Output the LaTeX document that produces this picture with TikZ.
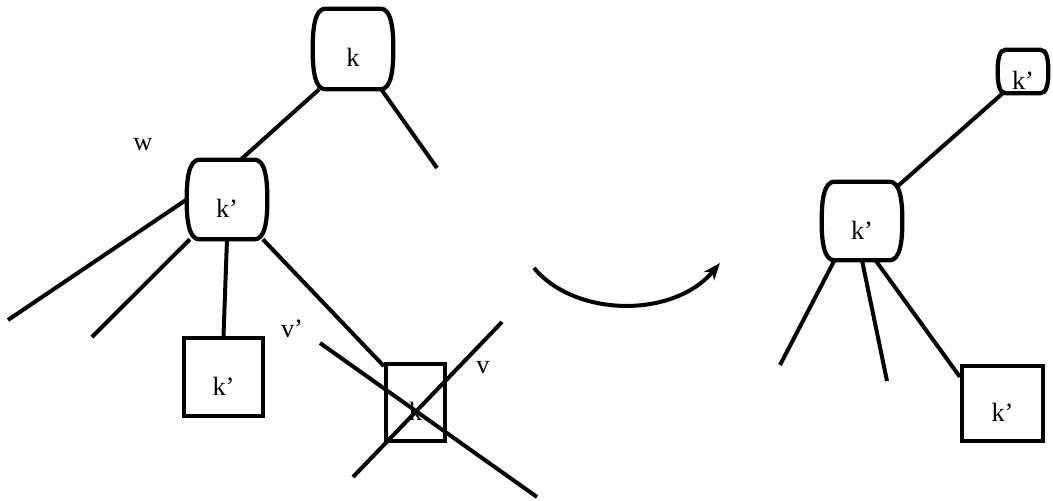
\documentclass[tikz,border=0pt]{standalone}
\usepackage{fontspec}
\setmainfont{Liberation Serif}
\usetikzlibrary{arrows.meta,calc}
\tikzset{
  clave/.style={rectangle,draw=none,inner sep=0pt,font=\fontsize{15}{18}\selectfont,text height=0.72cm,text depth=0pt},
  hoja/.style={rectangle,draw=black,line width=0.085cm,inner sep=0pt,font=\fontsize{15}{18}\selectfont,text height=0.72cm,text depth=0pt},
  borde/.style={draw=black,line width=0.085cm},
  arista/.style={draw=black,line width=0.08cm},
  etiq/.style={anchor=base,inner sep=0pt,font=\fontsize{15}{18}\selectfont},
  flecha/.style={draw=black,line width=0.08cm,-{Stealth[length=0.34cm,width=0.26cm,inset=0.1cm]}},
}
\newcommand\barril[1]{%
  \draw[borde] ($(#1.north west)!.16!(#1.north east)$) -- ($(#1.north west)!.84!(#1.north east)$)
    .. controls ($(#1.north west)!.97!(#1.north east)$) and ($(#1.north east)!.45!(#1.east)$) .. (#1.east)
    .. controls ($(#1.south east)!.45!(#1.east)$) and ($(#1.south west)!.97!(#1.south east)$) .. ($(#1.south west)!.84!(#1.south east)$)
    -- ($(#1.south west)!.16!(#1.south east)$)
    .. controls ($(#1.south west)!.03!(#1.south east)$) and ($(#1.south west)!.45!(#1.west)$) .. (#1.west)
    .. controls ($(#1.north west)!.45!(#1.west)$) and ($(#1.north west)!.03!(#1.north east)$) .. cycle;}
\begin{document}
\begin{tikzpicture}[x=0.02cm,y=-0.02cm]
\useasboundingbox (0,0) rectangle (1053,500);
\node[clave,minimum width=1.6cm,minimum height=1.6cm] (raiz) at (353,49) {k};
\node[clave,minimum width=1.6cm,minimum height=1.58cm] (w) at (227,199.5) {k’};
\node[clave,minimum width=1.0cm,minimum height=0.86cm] (rk) at (1023,71.5) {k’};
\node[clave,minimum width=1.6cm,minimum height=1.56cm] (rb) at (862,221) {k’};
\node[hoja,minimum width=1.58cm,minimum height=1.56cm] (sq1) at (223.5,377) {k’};
\node[hoja,minimum width=1.18cm,minimum height=1.54cm] (sq2) at (415.5,402.5) {k};
\node[hoja,minimum width=1.62cm,minimum height=1.5cm] (sq3) at (1002.5,403.5) {k’};
\barril{raiz}
\barril{w}
\barril{rk}
\barril{rb}
\coordinate (c1) at (437,168);
\coordinate (e1) at (8,320);
\coordinate (e2) at (92,337);
\coordinate (e3) at (780,365);
\coordinate (e4) at (887,381);
\coordinate (xa1) at (320,343);
\coordinate (xa2) at (537,497);
\coordinate (xb1) at (353,477);
\coordinate (xb2) at (502,322);
\coordinate (a0) at (534,268);
\coordinate (a1) at (576,318);
\coordinate (a2) at (674,318);
\coordinate (a3) at (720,263);
\draw[arista] (raiz.230) -- (w.71);
\draw[arista] (raiz.305) -- (c1);
\draw[arista] (w.west) -- (e1);
\draw[arista] (w.227) -- (e2);
\draw[arista] (w.south) -- (sq1.north);
\draw[arista] (w.312) -- (sq2.131);
\draw[arista] (xa1) -- (xa2);
\draw[arista] (xb1) -- (xb2);
\draw[arista,shorten >=-0.16cm] (rk.227) -- (rb.44);
\draw[arista] (rb.235) -- (e3);
\draw[arista] (rb.south) -- (e4);
\draw[arista] (rb.289) -- (sq3.148);
\draw[flecha] (a0) .. controls (a1) and (a2) .. (a3);
\node[etiq] (lw) at (143,150) {w};
\node[etiq] (lv1) at (292,337) {v’};
\node[etiq] (lv) at (483,373) {v};
\end{tikzpicture}
\end{document}
